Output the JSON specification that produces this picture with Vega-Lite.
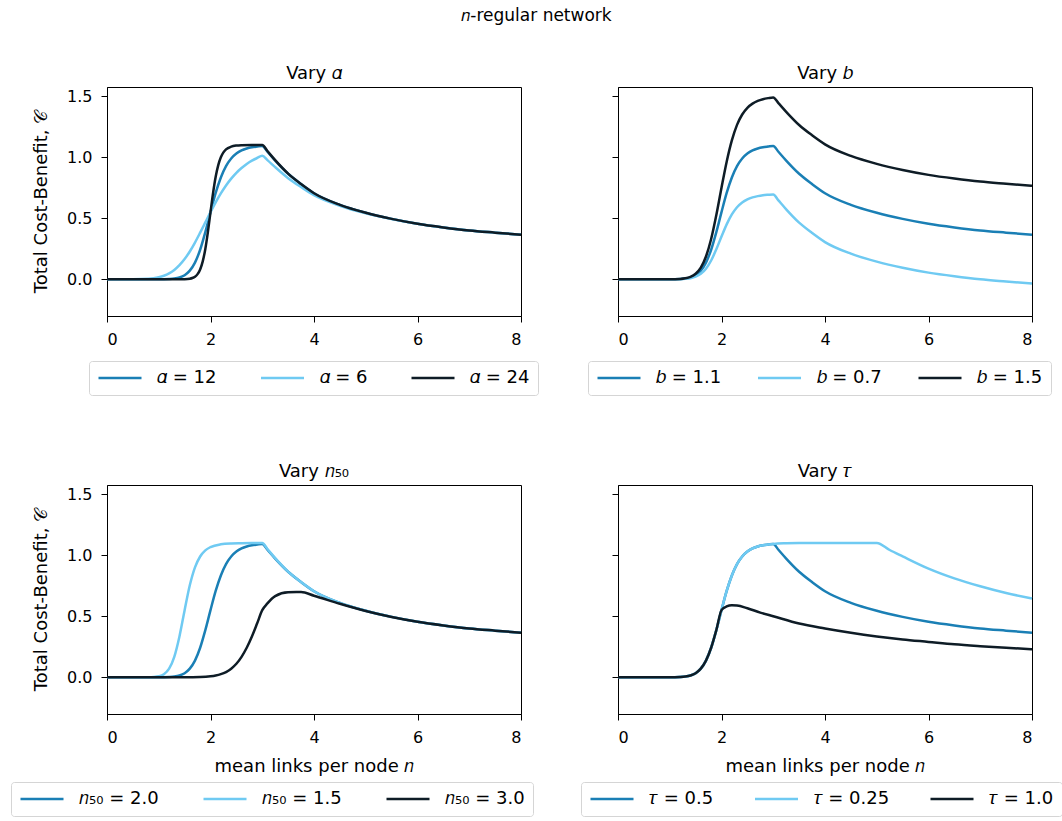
{
"$schema": "https://vega.github.io/schema/vega-lite/v6.json",
"background": "white",
"padding": {"left": 10, "top": 6, "right": 4, "bottom": 2},
"title": {"text": "𝑛-regular network", "fontSize": 17, "fontWeight": "normal", "font": "DejaVu Sans", "anchor": "middle", "frame": "bounds", "offset": 40, "color": "black"},
"config": {
  "font": "DejaVu Sans",
  "view": {"stroke": "black", "strokeWidth": 1},
  "axis": {"labelFont": "DejaVu Sans", "labelFontSize": 16, "labelColor": "black", "tickColor": "black", "domainColor": "black", "tickSize": 6, "grid": false, "titleFont": "DejaVu Sans", "titleFontSize": 18, "titleFontWeight": "normal", "titleColor": "black", "labelPadding": 9, "titlePadding": 12},
  "axisY": {"titlePadding": 16},
  "title": {"fontSize": 18, "fontWeight": "normal", "font": "DejaVu Sans", "color": "black", "offset": 4},
  "legend": {"orient": "none", "direction": "horizontal", "columns": 3, "title": null, "symbolType": "stroke", "symbolStrokeWidth": 2.5, "symbolSize": 1849, "clipHeight": 18, "labelFont": "DejaVu Sans", "labelFontSize": 18, "labelColor": "black", "labelOffset": 14, "columnPadding": 42.5, "strokeColor": "#d5d5d5", "cornerRadius": 3, "padding": 8, "fillColor": "white"}
},
"datasets": {
"alpha": [
{"s":"12","n":0,"v":0},{"s":"12","n":0.5,"v":0},{"s":"12","n":1,"v":0.0003},{"s":"12","n":1.1,"v":0.0008},{"s":"12","n":1.2,"v":0.0024},{"s":"12","n":1.3,"v":0.0062},{"s":"12","n":1.4,"v":0.015},{"s":"12","n":1.5,"v":0.034},{"s":"12","n":1.6,"v":0.071},{"s":"12","n":1.7,"v":0.137},{"s":"12","n":1.8,"v":0.242},{"s":"12","n":1.9,"v":0.386},{"s":"12","n":2,"v":0.55},{"s":"12","n":2.1,"v":0.707},{"s":"12","n":2.2,"v":0.834},{"s":"12","n":2.3,"v":0.927},{"s":"12","n":2.4,"v":0.989},{"s":"12","n":2.5,"v":1.029},{"s":"12","n":2.6,"v":1.055},{"s":"12","n":2.7,"v":1.071},{"s":"12","n":2.8,"v":1.081},{"s":"12","n":2.9,"v":1.087},{"s":"12","n":3,"v":1.092},{"s":"12","n":3.1,"v":1.044},{"s":"12","n":3.25,"v":0.972},{"s":"12","n":3.5,"v":0.864},{"s":"12","n":3.75,"v":0.78},{"s":"12","n":4,"v":0.705},{"s":"12","n":4.5,"v":0.61},{"s":"12","n":5,"v":0.545},{"s":"12","n":5.5,"v":0.495},{"s":"12","n":6,"v":0.455},{"s":"12","n":6.5,"v":0.425},{"s":"12","n":7,"v":0.4},{"s":"12","n":7.5,"v":0.382},{"s":"12","n":8,"v":0.365},
{"s":"6","n":0,"v":0},{"s":"6","n":0.5,"v":0.0003},{"s":"6","n":0.8,"v":0.0045},{"s":"6","n":0.9,"v":0.0091},{"s":"6","n":1,"v":0.017},{"s":"6","n":1.1,"v":0.0296},{"s":"6","n":1.2,"v":0.049},{"s":"6","n":1.3,"v":0.077},{"s":"6","n":1.4,"v":0.116},{"s":"6","n":1.5,"v":0.166},{"s":"6","n":1.6,"v":0.228},{"s":"6","n":1.7,"v":0.301},{"s":"6","n":1.8,"v":0.382},{"s":"6","n":1.9,"v":0.466},{"s":"6","n":2,"v":0.55},{"s":"6","n":2.1,"v":0.63},{"s":"6","n":2.2,"v":0.703},{"s":"6","n":2.3,"v":0.768},{"s":"6","n":2.4,"v":0.824},{"s":"6","n":2.5,"v":0.872},{"s":"6","n":2.6,"v":0.911},{"s":"6","n":2.7,"v":0.944},{"s":"6","n":2.8,"v":0.971},{"s":"6","n":2.9,"v":0.993},{"s":"6","n":3,"v":1.011},{"s":"6","n":3.1,"v":0.976},{"s":"6","n":3.25,"v":0.918},{"s":"6","n":3.5,"v":0.828},{"s":"6","n":3.75,"v":0.755},{"s":"6","n":4,"v":0.688},{"s":"6","n":4.5,"v":0.602},{"s":"6","n":5,"v":0.54},{"s":"6","n":5.5,"v":0.493},{"s":"6","n":6,"v":0.454},{"s":"6","n":6.5,"v":0.424},{"s":"6","n":7,"v":0.4},{"s":"6","n":7.5,"v":0.382},{"s":"6","n":8,"v":0.365},
{"s":"24","n":0,"v":0},{"s":"24","n":1,"v":0},{"s":"24","n":1.4,"v":0.0002},{"s":"24","n":1.5,"v":0.0011},{"s":"24","n":1.6,"v":0.0052},{"s":"24","n":1.65,"v":0.0108},{"s":"24","n":1.7,"v":0.0218},{"s":"24","n":1.75,"v":0.0428},{"s":"24","n":1.8,"v":0.0813},{"s":"24","n":1.85,"v":0.147},{"s":"24","n":1.9,"v":0.249},{"s":"24","n":1.95,"v":0.389},{"s":"24","n":2,"v":0.55},{"s":"24","n":2.05,"v":0.708},{"s":"24","n":2.1,"v":0.84},{"s":"24","n":2.15,"v":0.935},{"s":"24","n":2.2,"v":0.999},{"s":"24","n":2.25,"v":1.039},{"s":"24","n":2.3,"v":1.063},{"s":"24","n":2.4,"v":1.086},{"s":"24","n":2.5,"v":1.095},{"s":"24","n":2.6,"v":1.098},{"s":"24","n":2.8,"v":1.0996},{"s":"24","n":3,"v":1.1},{"s":"24","n":3.1,"v":1.05},{"s":"24","n":3.25,"v":0.975},{"s":"24","n":3.5,"v":0.865},{"s":"24","n":3.75,"v":0.78},{"s":"24","n":4,"v":0.705},{"s":"24","n":4.5,"v":0.61},{"s":"24","n":5,"v":0.545},{"s":"24","n":5.5,"v":0.495},{"s":"24","n":6,"v":0.455},{"s":"24","n":6.5,"v":0.425},{"s":"24","n":7,"v":0.4},{"s":"24","n":7.5,"v":0.382},{"s":"24","n":8,"v":0.365}
],
"bpar": [
{"s":"1.1","n":0,"v":0},{"s":"1.1","n":0.5,"v":0},{"s":"1.1","n":1,"v":0.0003},{"s":"1.1","n":1.1,"v":0.0008},{"s":"1.1","n":1.2,"v":0.0024},{"s":"1.1","n":1.3,"v":0.0062},{"s":"1.1","n":1.4,"v":0.015},{"s":"1.1","n":1.5,"v":0.034},{"s":"1.1","n":1.6,"v":0.071},{"s":"1.1","n":1.7,"v":0.137},{"s":"1.1","n":1.8,"v":0.242},{"s":"1.1","n":1.9,"v":0.386},{"s":"1.1","n":2,"v":0.55},{"s":"1.1","n":2.1,"v":0.707},{"s":"1.1","n":2.2,"v":0.834},{"s":"1.1","n":2.3,"v":0.927},{"s":"1.1","n":2.4,"v":0.989},{"s":"1.1","n":2.5,"v":1.029},{"s":"1.1","n":2.6,"v":1.055},{"s":"1.1","n":2.7,"v":1.071},{"s":"1.1","n":2.8,"v":1.081},{"s":"1.1","n":2.9,"v":1.087},{"s":"1.1","n":3,"v":1.092},{"s":"1.1","n":3.1,"v":1.044},{"s":"1.1","n":3.25,"v":0.972},{"s":"1.1","n":3.5,"v":0.864},{"s":"1.1","n":3.75,"v":0.78},{"s":"1.1","n":4,"v":0.705},{"s":"1.1","n":4.5,"v":0.61},{"s":"1.1","n":5,"v":0.545},{"s":"1.1","n":5.5,"v":0.495},{"s":"1.1","n":6,"v":0.455},{"s":"1.1","n":6.5,"v":0.425},{"s":"1.1","n":7,"v":0.4},{"s":"1.1","n":7.5,"v":0.382},{"s":"1.1","n":8,"v":0.365},
{"s":"0.7","n":0,"v":0},{"s":"0.7","n":0.5,"v":0},{"s":"0.7","n":1,"v":0.0002},{"s":"0.7","n":1.2,"v":0.0015},{"s":"0.7","n":1.3,"v":0.004},{"s":"0.7","n":1.4,"v":0.0096},{"s":"0.7","n":1.5,"v":0.0215},{"s":"0.7","n":1.6,"v":0.045},{"s":"0.7","n":1.7,"v":0.087},{"s":"0.7","n":1.8,"v":0.154},{"s":"0.7","n":1.9,"v":0.246},{"s":"0.7","n":2,"v":0.35},{"s":"0.7","n":2.1,"v":0.45},{"s":"0.7","n":2.2,"v":0.531},{"s":"0.7","n":2.3,"v":0.59},{"s":"0.7","n":2.4,"v":0.629},{"s":"0.7","n":2.5,"v":0.655},{"s":"0.7","n":2.6,"v":0.671},{"s":"0.7","n":2.7,"v":0.681},{"s":"0.7","n":2.8,"v":0.688},{"s":"0.7","n":2.9,"v":0.692},{"s":"0.7","n":3,"v":0.695},{"s":"0.7","n":3.1,"v":0.646},{"s":"0.7","n":3.25,"v":0.573},{"s":"0.7","n":3.5,"v":0.464},{"s":"0.7","n":3.75,"v":0.38},{"s":"0.7","n":4,"v":0.305},{"s":"0.7","n":4.5,"v":0.21},{"s":"0.7","n":5,"v":0.145},{"s":"0.7","n":5.5,"v":0.095},{"s":"0.7","n":6,"v":0.055},{"s":"0.7","n":6.5,"v":0.025},{"s":"0.7","n":7,"v":0},{"s":"0.7","n":7.5,"v":-0.018},{"s":"0.7","n":8,"v":-0.035},
{"s":"1.5","n":0,"v":0},{"s":"1.5","n":0.5,"v":0},{"s":"1.5","n":1,"v":0.0004},{"s":"1.5","n":1.2,"v":0.0033},{"s":"1.5","n":1.3,"v":0.0085},{"s":"1.5","n":1.4,"v":0.0205},{"s":"1.5","n":1.5,"v":0.046},{"s":"1.5","n":1.6,"v":0.096},{"s":"1.5","n":1.7,"v":0.187},{"s":"1.5","n":1.8,"v":0.33},{"s":"1.5","n":1.9,"v":0.526},{"s":"1.5","n":2,"v":0.75},{"s":"1.5","n":2.1,"v":0.963},{"s":"1.5","n":2.2,"v":1.137},{"s":"1.5","n":2.3,"v":1.264},{"s":"1.5","n":2.4,"v":1.349},{"s":"1.5","n":2.5,"v":1.404},{"s":"1.5","n":2.6,"v":1.438},{"s":"1.5","n":2.7,"v":1.46},{"s":"1.5","n":2.8,"v":1.474},{"s":"1.5","n":2.9,"v":1.483},{"s":"1.5","n":3,"v":1.489},{"s":"1.5","n":3.1,"v":1.442},{"s":"1.5","n":3.25,"v":1.371},{"s":"1.5","n":3.5,"v":1.263},{"s":"1.5","n":3.75,"v":1.179},{"s":"1.5","n":4,"v":1.105},{"s":"1.5","n":4.5,"v":1.01},{"s":"1.5","n":5,"v":0.945},{"s":"1.5","n":5.5,"v":0.895},{"s":"1.5","n":6,"v":0.855},{"s":"1.5","n":6.5,"v":0.825},{"s":"1.5","n":7,"v":0.8},{"s":"1.5","n":7.5,"v":0.782},{"s":"1.5","n":8,"v":0.765}
],
"n50": [
{"s":"2.0","n":0,"v":0},{"s":"2.0","n":0.5,"v":0},{"s":"2.0","n":1,"v":0.0003},{"s":"2.0","n":1.1,"v":0.0008},{"s":"2.0","n":1.2,"v":0.0024},{"s":"2.0","n":1.3,"v":0.0062},{"s":"2.0","n":1.4,"v":0.015},{"s":"2.0","n":1.5,"v":0.034},{"s":"2.0","n":1.6,"v":0.071},{"s":"2.0","n":1.7,"v":0.137},{"s":"2.0","n":1.8,"v":0.242},{"s":"2.0","n":1.9,"v":0.386},{"s":"2.0","n":2,"v":0.55},{"s":"2.0","n":2.1,"v":0.707},{"s":"2.0","n":2.2,"v":0.834},{"s":"2.0","n":2.3,"v":0.927},{"s":"2.0","n":2.4,"v":0.989},{"s":"2.0","n":2.5,"v":1.029},{"s":"2.0","n":2.6,"v":1.055},{"s":"2.0","n":2.7,"v":1.071},{"s":"2.0","n":2.8,"v":1.081},{"s":"2.0","n":2.9,"v":1.087},{"s":"2.0","n":3,"v":1.092},{"s":"2.0","n":3.1,"v":1.044},{"s":"2.0","n":3.25,"v":0.972},{"s":"2.0","n":3.5,"v":0.864},{"s":"2.0","n":3.75,"v":0.78},{"s":"2.0","n":4,"v":0.705},{"s":"2.0","n":4.5,"v":0.61},{"s":"2.0","n":5,"v":0.545},{"s":"2.0","n":5.5,"v":0.495},{"s":"2.0","n":6,"v":0.455},{"s":"2.0","n":6.5,"v":0.425},{"s":"2.0","n":7,"v":0.4},{"s":"2.0","n":7.5,"v":0.382},{"s":"2.0","n":8,"v":0.365},
{"s":"1.5","n":0,"v":0},{"s":"1.5","n":0.5,"v":0},{"s":"1.5","n":0.8,"v":0.0006},{"s":"1.5","n":0.9,"v":0.0024},{"s":"1.5","n":1,"v":0.0084},{"s":"1.5","n":1.1,"v":0.026},{"s":"1.5","n":1.2,"v":0.071},{"s":"1.5","n":1.3,"v":0.168},{"s":"1.5","n":1.4,"v":0.335},{"s":"1.5","n":1.5,"v":0.55},{"s":"1.5","n":1.6,"v":0.753},{"s":"1.5","n":1.7,"v":0.9},{"s":"1.5","n":1.8,"v":0.989},{"s":"1.5","n":1.9,"v":1.039},{"s":"1.5","n":2,"v":1.066},{"s":"1.5","n":2.2,"v":1.089},{"s":"1.5","n":2.4,"v":1.096},{"s":"1.5","n":2.6,"v":1.098},{"s":"1.5","n":2.8,"v":1.0995},{"s":"1.5","n":3,"v":1.1},{"s":"1.5","n":3.1,"v":1.05},{"s":"1.5","n":3.25,"v":0.975},{"s":"1.5","n":3.5,"v":0.865},{"s":"1.5","n":3.75,"v":0.78},{"s":"1.5","n":4,"v":0.705},{"s":"1.5","n":4.5,"v":0.61},{"s":"1.5","n":5,"v":0.545},{"s":"1.5","n":5.5,"v":0.495},{"s":"1.5","n":6,"v":0.455},{"s":"1.5","n":6.5,"v":0.425},{"s":"1.5","n":7,"v":0.4},{"s":"1.5","n":7.5,"v":0.382},{"s":"1.5","n":8,"v":0.365},
{"s":"3.0","n":0,"v":0},{"s":"3.0","n":1,"v":0},{"s":"3.0","n":1.5,"v":0.0003},{"s":"3.0","n":1.8,"v":0.0024},{"s":"3.0","n":2,"v":0.0084},{"s":"3.0","n":2.1,"v":0.015},{"s":"3.0","n":2.2,"v":0.026},{"s":"3.0","n":2.3,"v":0.0435},{"s":"3.0","n":2.4,"v":0.071},{"s":"3.0","n":2.5,"v":0.111},{"s":"3.0","n":2.6,"v":0.168},{"s":"3.0","n":2.7,"v":0.242},{"s":"3.0","n":2.8,"v":0.334},{"s":"3.0","n":2.9,"v":0.44},{"s":"3.0","n":3,"v":0.55},{"s":"3.0","n":3.1,"v":0.605},{"s":"3.0","n":3.25,"v":0.665},{"s":"3.0","n":3.5,"v":0.697},{"s":"3.0","n":3.75,"v":0.698},{"s":"3.0","n":4,"v":0.668},{"s":"3.0","n":4.5,"v":0.602},{"s":"3.0","n":5,"v":0.543},{"s":"3.0","n":5.5,"v":0.494},{"s":"3.0","n":6,"v":0.455},{"s":"3.0","n":6.5,"v":0.425},{"s":"3.0","n":7,"v":0.4},{"s":"3.0","n":7.5,"v":0.382},{"s":"3.0","n":8,"v":0.365}
],
"tau": [
{"s":"0.5","n":0,"v":0},{"s":"0.5","n":0.5,"v":0},{"s":"0.5","n":1,"v":0.0003},{"s":"0.5","n":1.1,"v":0.0008},{"s":"0.5","n":1.2,"v":0.0024},{"s":"0.5","n":1.3,"v":0.0062},{"s":"0.5","n":1.4,"v":0.015},{"s":"0.5","n":1.5,"v":0.034},{"s":"0.5","n":1.6,"v":0.071},{"s":"0.5","n":1.7,"v":0.137},{"s":"0.5","n":1.8,"v":0.242},{"s":"0.5","n":1.9,"v":0.386},{"s":"0.5","n":2,"v":0.55},{"s":"0.5","n":2.1,"v":0.707},{"s":"0.5","n":2.2,"v":0.834},{"s":"0.5","n":2.3,"v":0.927},{"s":"0.5","n":2.4,"v":0.989},{"s":"0.5","n":2.5,"v":1.029},{"s":"0.5","n":2.6,"v":1.055},{"s":"0.5","n":2.7,"v":1.071},{"s":"0.5","n":2.8,"v":1.081},{"s":"0.5","n":2.9,"v":1.087},{"s":"0.5","n":3,"v":1.092},{"s":"0.5","n":3.1,"v":1.044},{"s":"0.5","n":3.25,"v":0.972},{"s":"0.5","n":3.5,"v":0.864},{"s":"0.5","n":3.75,"v":0.78},{"s":"0.5","n":4,"v":0.705},{"s":"0.5","n":4.5,"v":0.61},{"s":"0.5","n":5,"v":0.545},{"s":"0.5","n":5.5,"v":0.495},{"s":"0.5","n":6,"v":0.455},{"s":"0.5","n":6.5,"v":0.425},{"s":"0.5","n":7,"v":0.4},{"s":"0.5","n":7.5,"v":0.382},{"s":"0.5","n":8,"v":0.365},
{"s":"0.25","n":0,"v":0},{"s":"0.25","n":0.5,"v":0},{"s":"0.25","n":1,"v":0.0003},{"s":"0.25","n":1.1,"v":0.0008},{"s":"0.25","n":1.2,"v":0.0024},{"s":"0.25","n":1.3,"v":0.0062},{"s":"0.25","n":1.4,"v":0.015},{"s":"0.25","n":1.5,"v":0.034},{"s":"0.25","n":1.6,"v":0.071},{"s":"0.25","n":1.7,"v":0.137},{"s":"0.25","n":1.8,"v":0.242},{"s":"0.25","n":1.9,"v":0.386},{"s":"0.25","n":2,"v":0.55},{"s":"0.25","n":2.1,"v":0.707},{"s":"0.25","n":2.2,"v":0.834},{"s":"0.25","n":2.3,"v":0.927},{"s":"0.25","n":2.4,"v":0.989},{"s":"0.25","n":2.5,"v":1.029},{"s":"0.25","n":2.6,"v":1.055},{"s":"0.25","n":2.7,"v":1.071},{"s":"0.25","n":2.8,"v":1.081},{"s":"0.25","n":2.9,"v":1.087},{"s":"0.25","n":3,"v":1.092},{"s":"0.25","n":3.25,"v":1.097},{"s":"0.25","n":3.5,"v":1.099},{"s":"0.25","n":4,"v":1.1},{"s":"0.25","n":4.5,"v":1.1},{"s":"0.25","n":5,"v":1.1},{"s":"0.25","n":5.25,"v":1.042},{"s":"0.25","n":5.5,"v":0.99},{"s":"0.25","n":6,"v":0.89},{"s":"0.25","n":6.5,"v":0.81},{"s":"0.25","n":7,"v":0.745},{"s":"0.25","n":7.5,"v":0.69},{"s":"0.25","n":8,"v":0.645},
{"s":"1.0","n":0,"v":0},{"s":"1.0","n":0.5,"v":0},{"s":"1.0","n":1,"v":0.0003},{"s":"1.0","n":1.1,"v":0.0008},{"s":"1.0","n":1.2,"v":0.0024},{"s":"1.0","n":1.3,"v":0.0062},{"s":"1.0","n":1.4,"v":0.015},{"s":"1.0","n":1.5,"v":0.034},{"s":"1.0","n":1.6,"v":0.071},{"s":"1.0","n":1.7,"v":0.137},{"s":"1.0","n":1.8,"v":0.242},{"s":"1.0","n":1.9,"v":0.386},{"s":"1.0","n":2,"v":0.55},{"s":"1.0","n":2.1,"v":0.58},{"s":"1.0","n":2.2,"v":0.59},{"s":"1.0","n":2.3,"v":0.588},{"s":"1.0","n":2.5,"v":0.565},{"s":"1.0","n":2.75,"v":0.53},{"s":"1.0","n":3,"v":0.5},{"s":"1.0","n":3.5,"v":0.44},{"s":"1.0","n":4,"v":0.4},{"s":"1.0","n":4.5,"v":0.365},{"s":"1.0","n":5,"v":0.335},{"s":"1.0","n":5.5,"v":0.31},{"s":"1.0","n":6,"v":0.29},{"s":"1.0","n":6.5,"v":0.27},{"s":"1.0","n":7,"v":0.255},{"s":"1.0","n":7.5,"v":0.242},{"s":"1.0","n":8,"v":0.23}
]
},
"vconcat": [
{"hconcat": [
 {"width": 414, "height": 229, "title": "Vary 𝛼", "data": {"name": "alpha"},
  "mark": {"type": "line", "strokeWidth": 2.5, "interpolate": "monotone"},
  "encoding": {
   "x": {"field": "n", "type": "quantitative", "scale": {"domain": [0, 8], "nice": false, "zero": false}, "axis": {"values": [0,2,4,6,8], "format": "d", "title": null}},
   "y": {"field": "v", "type": "quantitative", "scale": {"domain": [-0.3, 1.574], "nice": false, "zero": false}, "axis": {"values": [0,0.5,1,1.5], "format": ".1f", "title": "Total Cost-Benefit, 𝒞"}},
   "color": {"field": "s", "type": "nominal", "sort": null, "scale": {"domain": ["12","6","24"], "range": ["#1a7fb5","#6fcaf2","#0e1c26"]}, "legend": {"labelExpr": "'𝛼 = ' + datum.label", "legendX": -18, "legendY": 274}}
  }},
 {"width": 414, "height": 229, "title": "Vary 𝑏", "data": {"name": "bpar"},
  "mark": {"type": "line", "strokeWidth": 2.5, "interpolate": "monotone"},
  "encoding": {
   "x": {"field": "n", "type": "quantitative", "scale": {"domain": [0, 8], "nice": false, "zero": false}, "axis": {"values": [0,2,4,6,8], "format": "d", "title": null}},
   "y": {"field": "v", "type": "quantitative", "scale": {"domain": [-0.3, 1.574], "nice": false, "zero": false}, "axis": {"values": [0,0.5,1,1.5], "labels": false, "title": null}},
   "color": {"field": "s", "type": "nominal", "sort": null, "scale": {"domain": ["1.1","0.7","1.5"], "range": ["#1a7fb5","#6fcaf2","#0e1c26"]}, "legend": {"labelExpr": "'𝑏 = ' + datum.label", "legendX": -30, "legendY": 274, "columnPadding": 34.5}}
  }}
 ], "spacing": 97, "bounds": "flush", "resolve": {"scale": {"color": "independent"}}},
{"hconcat": [
 {"width": 414, "height": 229, "title": "Vary 𝑛₅₀", "data": {"name": "n50"},
  "mark": {"type": "line", "strokeWidth": 2.5, "interpolate": "monotone"},
  "encoding": {
   "x": {"field": "n", "type": "quantitative", "scale": {"domain": [0, 8], "nice": false, "zero": false}, "axis": {"values": [0,2,4,6,8], "format": "d", "title": "mean links per node 𝑛"}},
   "y": {"field": "v", "type": "quantitative", "scale": {"domain": [-0.3, 1.574], "nice": false, "zero": false}, "axis": {"values": [0,0.5,1,1.5], "format": ".1f", "title": "Total Cost-Benefit, 𝒞"}},
   "color": {"field": "s", "type": "nominal", "sort": null, "scale": {"domain": ["2.0","1.5","3.0"], "range": ["#1a7fb5","#6fcaf2","#0e1c26"]}, "legend": {"labelExpr": "'𝑛₅₀ = ' + datum.label", "legendX": -96, "legendY": 297, "columnPadding": 43}}
  }},
 {"width": 414, "height": 229, "title": "Vary 𝜏", "data": {"name": "tau"},
  "mark": {"type": "line", "strokeWidth": 2.5, "interpolate": "monotone"},
  "encoding": {
   "x": {"field": "n", "type": "quantitative", "scale": {"domain": [0, 8], "nice": false, "zero": false}, "axis": {"values": [0,2,4,6,8], "format": "d", "title": "mean links per node 𝑛"}},
   "y": {"field": "v", "type": "quantitative", "scale": {"domain": [-0.3, 1.574], "nice": false, "zero": false}, "axis": {"values": [0,0.5,1,1.5], "labels": false, "title": null}},
   "color": {"field": "s", "type": "nominal", "sort": null, "scale": {"domain": ["0.5","0.25","1.0"], "range": ["#1a7fb5","#6fcaf2","#0e1c26"]}, "legend": {"labelExpr": "'𝜏 = ' + datum.label", "legendX": -37, "legendY": 297, "columnPadding": 39.5}}
  }}
 ], "spacing": 97, "bounds": "flush", "resolve": {"scale": {"color": "independent"}}}
],
"spacing": 398,
"bounds": "flush",
"resolve": {"scale": {"color": "independent"}}
}
